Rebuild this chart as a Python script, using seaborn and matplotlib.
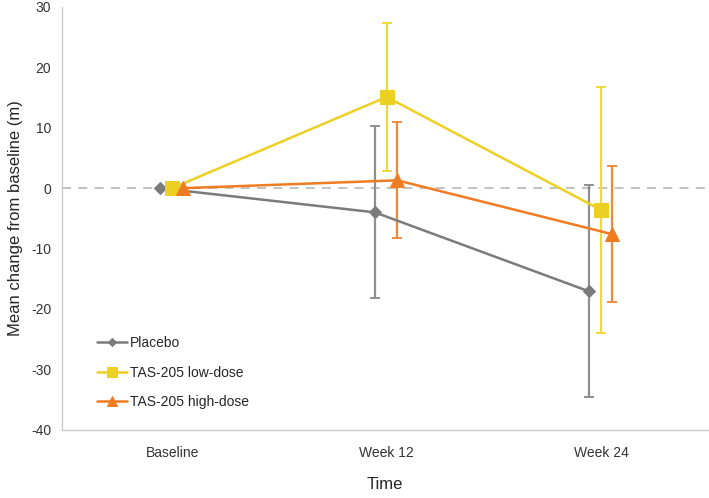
import matplotlib
matplotlib.use("Agg")
import matplotlib.pyplot as plt
import seaborn as sns
import pandas as pd
import numpy as np

categories = ["Baseline", "Week 12", "Week 24"]
series = ["Placebo", "TAS-205 low-dose", "TAS-205 high-dose"]
placebo = [0.0, -4.0, -17.1]
placebo_lo = [0.0, -18.2, -34.6]
placebo_hi = [0.0, 10.3, 0.6]
low = [0.0, 15.1, -3.6]
low_lo = [0.0, 2.8, -23.9]
low_hi = [0.0, 27.4, 16.8]
high = [0.0, 1.3, -7.6]
high_lo = [0.0, -8.3, -18.8]
high_hi = [0.0, 11.0, 3.6]

values = [placebo, low, high]
los = [placebo_lo, low_lo, high_lo]
his = [placebo_hi, low_hi, high_hi]
colors = ["#7b7b7b", "#ecd023", "#f07c22"]
err_colors = ["#8f8f8f", "#efd93a", "#f08a3a"]
markers = ["D", "s", "^"]
msizes = [6.5, 10, 10]
offsets = [-0.055, 0.0, 0.05]

sns.set_style("white")
plt.rcParams["font.family"] = ["Liberation Sans", "DejaVu Sans"]
plt.rcParams["axes.unicode_minus"] = False

rows = []
for s, v, off in zip(series, values, offsets):
    for i, c in enumerate(categories):
        rows.append({"series": s, "x": i + off, "value": v[i]})
df = pd.DataFrame(rows)

fig = plt.figure(figsize=(7.09, 4.98), dpi=100)
ax = fig.add_axes([0.087, 0.137, 0.912, 0.849])

ax.axhline(0, color="#bdbdbd", lw=1.3, ls=(0, (5, 4)), zorder=0)

for s, v, lo, hi, off, ec in zip(series, values, los, his, offsets, err_colors):
    xs = np.arange(len(categories)) + off
    v = np.array(v); lo = np.array(lo); hi = np.array(hi)
    ax.errorbar(xs[1:], v[1:], yerr=[v[1:] - lo[1:], hi[1:] - v[1:]],
                fmt="none", ecolor=ec, elinewidth=1.6, capsize=3.5, capthick=1.4, zorder=1)

for s, c, m, ms in zip(series, colors, markers, msizes):
    sub = df[df["series"] == s]
    sns.lineplot(data=sub, x="x", y="value", color=c, marker=m, markersize=ms,
                 markeredgecolor=c, linewidth=1.8, ax=ax, label=s, zorder=3)

ax.set_xlim(-0.515, 2.5)
ax.set_ylim(-40, 30)
ax.set_yticks(np.arange(-40, 31, 10))
ax.set_xticks(range(len(categories)))
ax.set_xticklabels(categories)
ax.set_xlabel("Time", fontsize=12, labelpad=12)
ax.set_ylabel("Mean change from baseline (m)", fontsize=12, labelpad=6)
ax.tick_params(axis="both", labelsize=10, colors="#333333", length=4, width=0.8)
ax.tick_params(axis="x", color="#bbbbbb", pad=8)
ax.tick_params(axis="y", color="#bbbbbb")
for sp in ["top", "right"]:
    ax.spines[sp].set_visible(False)
for sp in ["left", "bottom"]:
    ax.spines[sp].set_color("#c8c8c8")
    ax.spines[sp].set_linewidth(0.9)

ax.legend(loc="lower left", bbox_to_anchor=(0.035, 0.02), frameon=False, fontsize=10,
          labelspacing=1.1, handlelength=2.2, handletextpad=0.2, markerscale=0.7)

fig.savefig("out.png", dpi=100)
